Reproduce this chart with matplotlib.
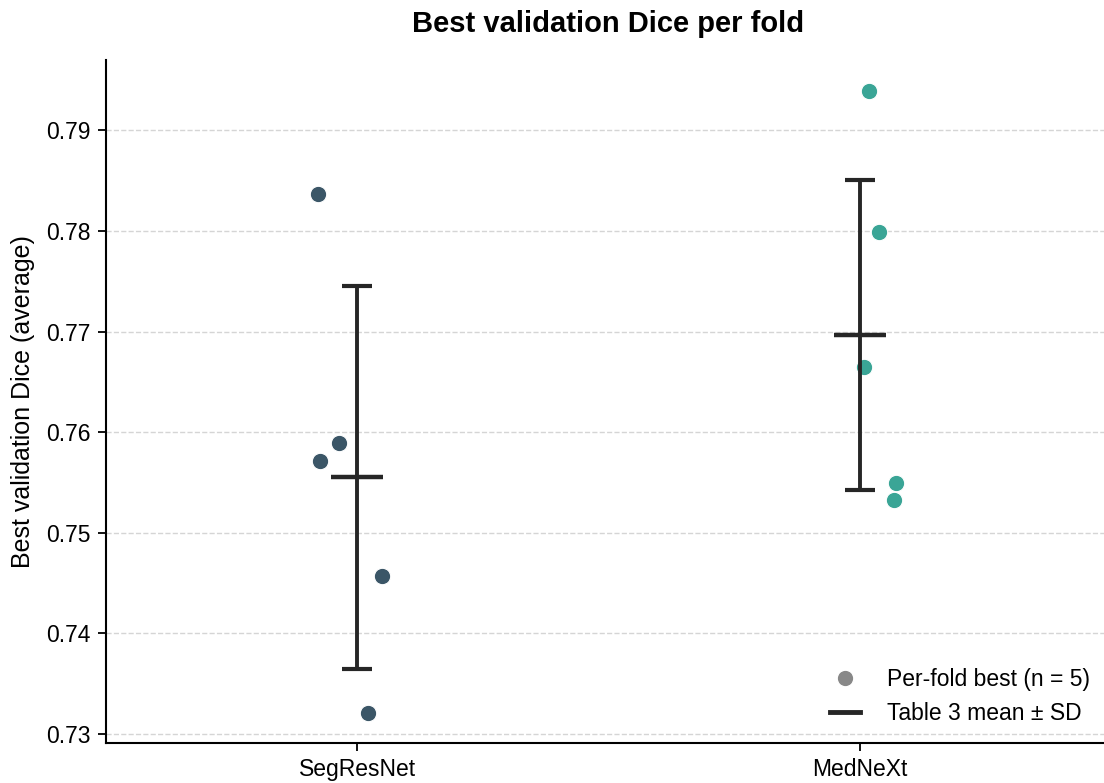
import numpy as np
import matplotlib.pyplot as plt
from matplotlib.lines import Line2D

plt.rcParams['font.family'] = ['Liberation Sans', 'DejaVu Sans']

models = ['SegResNet', 'MedNeXt']
colors = ['#3b5667', '#3aa596']
fold_dice = {
    'SegResNet': [0.7837, 0.7589, 0.7571, 0.7457, 0.7321],
    'MedNeXt': [0.7939, 0.7799, 0.7665, 0.7549, 0.7533],
}
fold_jitter = {
    'SegResNet': [-0.078, -0.036, -0.074, 0.050, 0.022],
    'MedNeXt': [0.018, 0.038, 0.008, 0.072, 0.068],
}
table_mean = [0.7555, 0.7697]
table_sd = [0.0190, 0.0154]


def main():
    fig = plt.figure(figsize=(11.04, 7.83), dpi=100)
    ax = fig.add_axes([106 / 1104, 1 - 743 / 783, 1005 / 1104, 683 / 783])

    for i, m in enumerate(models):
        xs = i + np.array(fold_jitter[m])
        ax.scatter(xs, fold_dice[m], s=140, color=colors[i], edgecolor='white',
                   linewidth=0.8, zorder=3)
        ax.errorbar(i, table_mean[i], yerr=table_sd[i], fmt='none', ecolor='#262626',
                    elinewidth=2.8, capsize=10.5, capthick=3, zorder=4)
        ax.plot([i], [table_mean[i]], marker='_', markersize=37, markeredgewidth=3.2,
                color='#262626', zorder=4)

    ax.set_xticks(range(len(models)))
    ax.set_xticklabels(models, fontsize=16.5)
    ax.set_xlim(-0.5, 1.5)
    ax.set_ylim(0.7291, 0.7970)
    ax.set_yticks([0.73, 0.74, 0.75, 0.76, 0.77, 0.78, 0.79])
    ax.set_yticklabels(['%.2f' % v for v in ax.get_yticks()])
    ax.tick_params(axis='y', labelsize=16.5)
    ax.tick_params(length=6, width=1.3, pad=5)
    ax.set_ylabel('Best validation Dice (average)', fontsize=18, labelpad=8)
    ax.yaxis.grid(True, linestyle='--', color='#d5d5d5', linewidth=1.0)
    ax.set_axisbelow(True)
    ax.spines['top'].set_visible(False)
    ax.spines['right'].set_visible(False)
    ax.spines['left'].set_linewidth(1.5)
    ax.spines['bottom'].set_linewidth(1.5)
    ax.set_title('Best validation Dice per fold', fontsize=21, fontweight='bold', pad=20)

    handles = [
        Line2D([], [], marker='o', linestyle='none', color='#888888', markersize=12,
               markeredgecolor='white', label='Per-fold best (n = 5)'),
        Line2D([], [], color='#262626', linewidth=3.5, label='Table 3 mean \u00b1 SD'),
    ]
    ax.legend(handles=handles, loc='lower right', frameon=False, fontsize=16.5,
              bbox_to_anchor=(1.0, -0.004), handlelength=1.3, handletextpad=1.2)

    fig.savefig('out.png', dpi=100)


if __name__ == '__main__':
    main()
